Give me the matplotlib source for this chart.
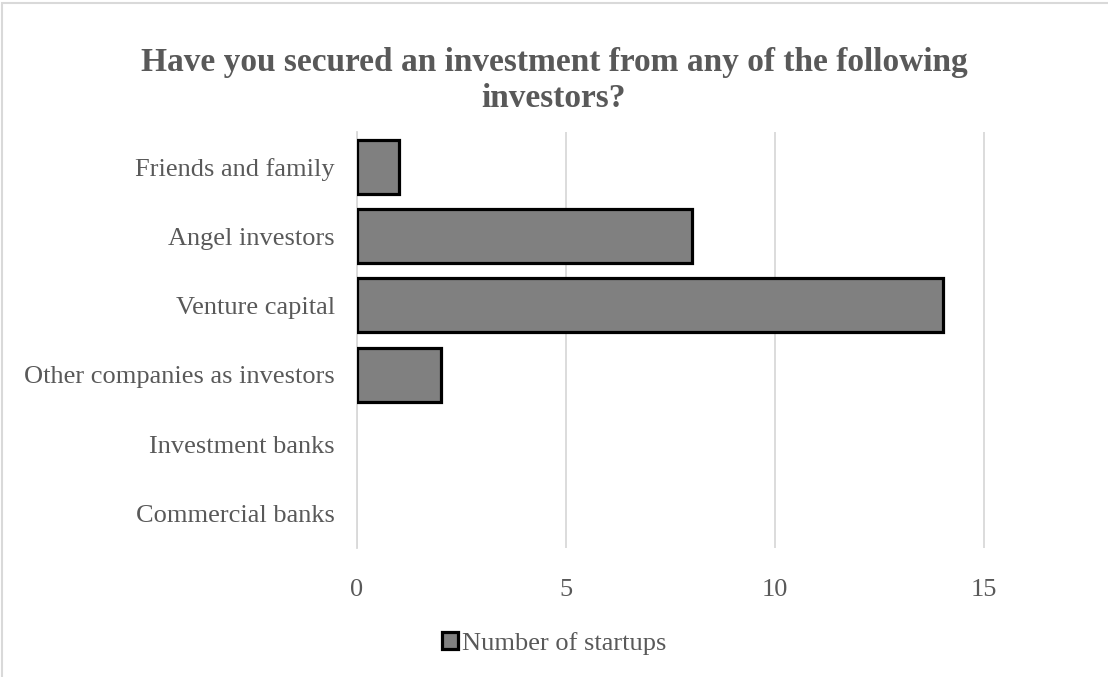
import matplotlib.pyplot as plt
from matplotlib.patches import Rectangle

categories = ['Friends and family', 'Angel investors', 'Venture capital',
              'Other companies as investors', 'Investment banks', 'Commercial banks']
startups = [1, 8, 14, 2, 0, 0]
xticks = [0, 5, 10, 15]

plt.rcParams['font.family'] = ['Liberation Serif', 'DejaVu Serif']
txt = '#595959'
grid = '#d9d9d9'

fig = plt.figure(figsize=(11.08, 6.77), dpi=100)
ax = fig.add_axes([0.3222, 0.1905, 0.6417, 0.6145])

ypos = list(range(len(categories)))
# no outline on empty bars
widths = [2.3 if v > 0 else 0 for v in startups]
ax.barh(ypos, startups, height=0.78, color='#808080', edgecolor='black',
        linewidth=widths, label='Number of startups', zorder=3)
ax.set_ylim(len(categories) - 0.5, -0.5)
ax.set_yticks(ypos)
ax.set_yticklabels(categories)
ax.set_xlim(0, 17)
ax.set_xticks(xticks)
ax.tick_params(axis='both', length=0, labelsize=19, colors=txt)
ax.tick_params(axis='x', pad=22)
ax.tick_params(axis='y', pad=16)
ax.grid(axis='x', color=grid, linewidth=1.3, zorder=0)
for s in ['top', 'right', 'bottom']:
    ax.spines[s].set_visible(False)
ax.spines['left'].set_color(grid)
ax.spines['left'].set_linewidth(1.3)

fig.suptitle('Have you secured an investment from any of the following\ninvestors?',
             x=0.5, y=0.93, fontsize=24, fontweight='bold', color=txt, linespacing=1.2)

fig.legend(loc='center', bbox_to_anchor=(0.5, 0.05), frameon=False, fontsize=19,
           labelcolor=txt, handlelength=0.6, handleheight=0.6, handletextpad=0.15)

# chart frame
fig.patches.append(Rectangle((0.002, -0.1), 1.2, 1.095, transform=fig.transFigure,
                             fill=False, edgecolor=grid, linewidth=1.5))

fig.savefig('out.png', dpi=100)
